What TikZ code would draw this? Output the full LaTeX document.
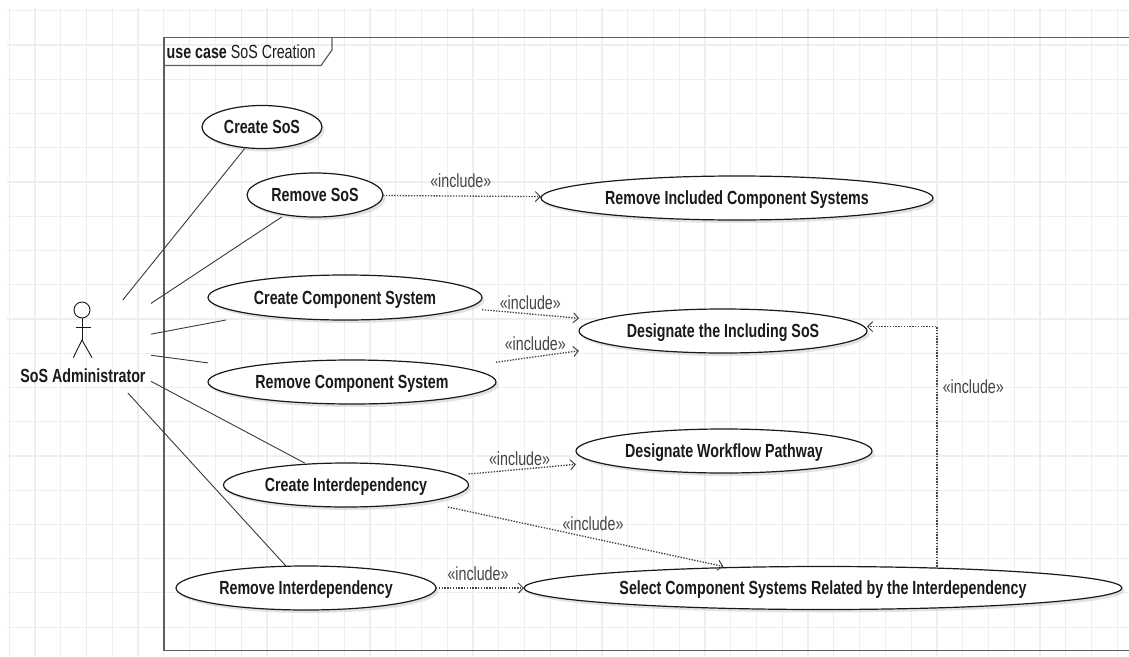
\documentclass[tikz,border=0pt]{standalone}
\usepackage{fontspec}
\newfontfamily\ucfont[FakeStretch=0.75]{Liberation Sans}
\usetikzlibrary{shapes.geometric,arrows.meta,shadows,fit}
\definecolor{gridc}{HTML}{EEEEEE}
\definecolor{framec}{HTML}{5E5E5E}
\definecolor{inkc}{HTML}{1A1A1A}
\definecolor{linec}{HTML}{3A3A3A}
\definecolor{depc}{HTML}{444444}
\begin{document}
\begin{tikzpicture}[x=1pt,y=-1pt,
  ucase/.style={ellipse, draw=inkc, line width=1.2pt, fill=white, inner sep=0pt, outer sep=0pt,
    font=\ucfont\bfseries\fontsize{19}{22}\selectfont, text=inkc, text height=13.6pt, text depth=0pt,
    drop shadow={shadow xshift=2.5pt, shadow yshift=-3pt, fill=black!22}},
  ubox/.style={inner sep=0pt, outer sep=0pt, draw=none, fill=none},
  assoc/.style={draw=linec, line width=0.9pt},
  incl/.style={draw=depc, line width=1.3pt, dash pattern=on 1.4pt off 1.4pt,
    -{Straight Barb[length=5pt,width=10pt,line width=1pt]}},
  incllabel/.style={font=\ucfont\fontsize{19}{22}\selectfont, text=depc, inner sep=0pt},
]
\useasboundingbox (0,0) rectangle (1129,656);
\fill[white] (0,0) rectangle (1129,656);
% grid
\foreach \i in {0,...,43} \draw[gridc, line width=1.2pt] ({9.2+25.77*\i},8) -- ({9.2+25.77*\i},656);
\foreach \j in {0,...,18} \draw[gridc, line width=1.2pt] (7,{10.8+34.24*\j}) -- (1129,{10.8+34.24*\j});
% frame
\draw[framec, line width=1.7pt] (1129,37.5) -- (164,37.5) -- (164,650.5) -- (1129,650.5);
\draw[framec, line width=1.2pt] (164,65.5) -- (321,65.5) -- (332,50) -- (332,37.5);
\node[anchor=base west, inner sep=0pt, text=inkc, font=\ucfont\fontsize{19}{22}\selectfont] (title) at (166.5,58.3) {{\bfseries use case} SoS Creation};
% actor
\node[ubox, minimum width=131pt, minimum height=93pt] (actor) at (85.5,346.5) {};
\draw[inkc, line width=0.9pt] (82,310) circle[radius=8pt];
\draw[inkc, line width=0.9pt] (82,318) -- (82,340);
\draw[inkc, line width=0.9pt] (75.5,327.7) -- (90.5,327.7);
\draw[inkc, line width=0.9pt] (73.3,357.7) -- (82,340) -- (92,357.7);
\node[anchor=base, inner sep=0pt, text=inkc, font=\ucfont\bfseries\fontsize{19}{22}\selectfont] (actorlbl) at (83,382.7) {SoS Administrator};
% use cases
\node[ucase, minimum width=120pt, minimum height=43pt] (csos) at (262,127) {Create SoS};
\node[ucase, minimum width=136pt, minimum height=44pt] (rsos) at (315,195) {Remove SoS};
\node[ucase, minimum width=392pt, minimum height=44pt] (ric) at (737,198) {Remove Included Component Systems};
\node[ucase, minimum width=274pt, minimum height=45pt] (ccs) at (345,297.5) {Create Component System};
\node[ucase, minimum width=288pt, minimum height=44pt] (rcs) at (352,382) {Remove Component System};
\node[ucase, minimum width=288pt, minimum height=44pt] (dis) at (723,331) {Designate the Including SoS};
\node[ucase, minimum width=296pt, minimum height=44pt] (dwp) at (724,451) {Designate Workflow Pathway};
\node[ucase, minimum width=245pt, minimum height=44pt] (cid) at (346,485) {Create Interdependency};
\node[ucase, minimum width=260pt, minimum height=44pt] (rid) at (306,588) {Remove Interdependency};
\node[ucase, minimum width=598pt, minimum height=43pt] (sel) at (823,588) {Select Component Systems Related by the Interdependency};
% bounding boxes of use cases
\foreach \n in {csos,rsos,ric,ccs,rcs,dis,dwp,cid,rid,sel}
  \node[ubox, fit=(\n)] (\n b) {};
% associations
\draw[assoc] (actor) -- (csosb);
\draw[assoc] (actor) -- (rsosb);
\draw[assoc] (actor) -- (ccsb);
\draw[assoc] (actor) -- (rcsb);
\draw[assoc] (actor) -- (cidb);
\draw[assoc] (actor) -- (ridb);
% includes
\draw[incl] (rsosb) -- (ricb);
\draw[incl] (ccsb) -- (disb);
\draw[incl] (rcsb) -- (disb);
\draw[incl] (cidb) -- (dwpb);
\draw[incl] (cidb) -- (selb);
\draw[incl] (ridb) -- (selb);
\coordinate (bend) at (937,326.7);
\draw[incl] (selb.north -| bend) -- (bend) -- (disb.east |- bend);
% include labels
\node[incllabel] (l1) at (460.8,180.7) {«include»};
\node[incllabel] (l2) at (530.3,303) {«include»};
\node[incllabel] (l3) at (535.3,344) {«include»};
\node[incllabel] (l4) at (973.3,386.3) {«include»};
\node[incllabel] (l5) at (519.5,459) {«include»};
\node[incllabel] (l6) at (593,524) {«include»};
\node[incllabel] (l7) at (478,574) {«include»};
\end{tikzpicture}
\end{document}
